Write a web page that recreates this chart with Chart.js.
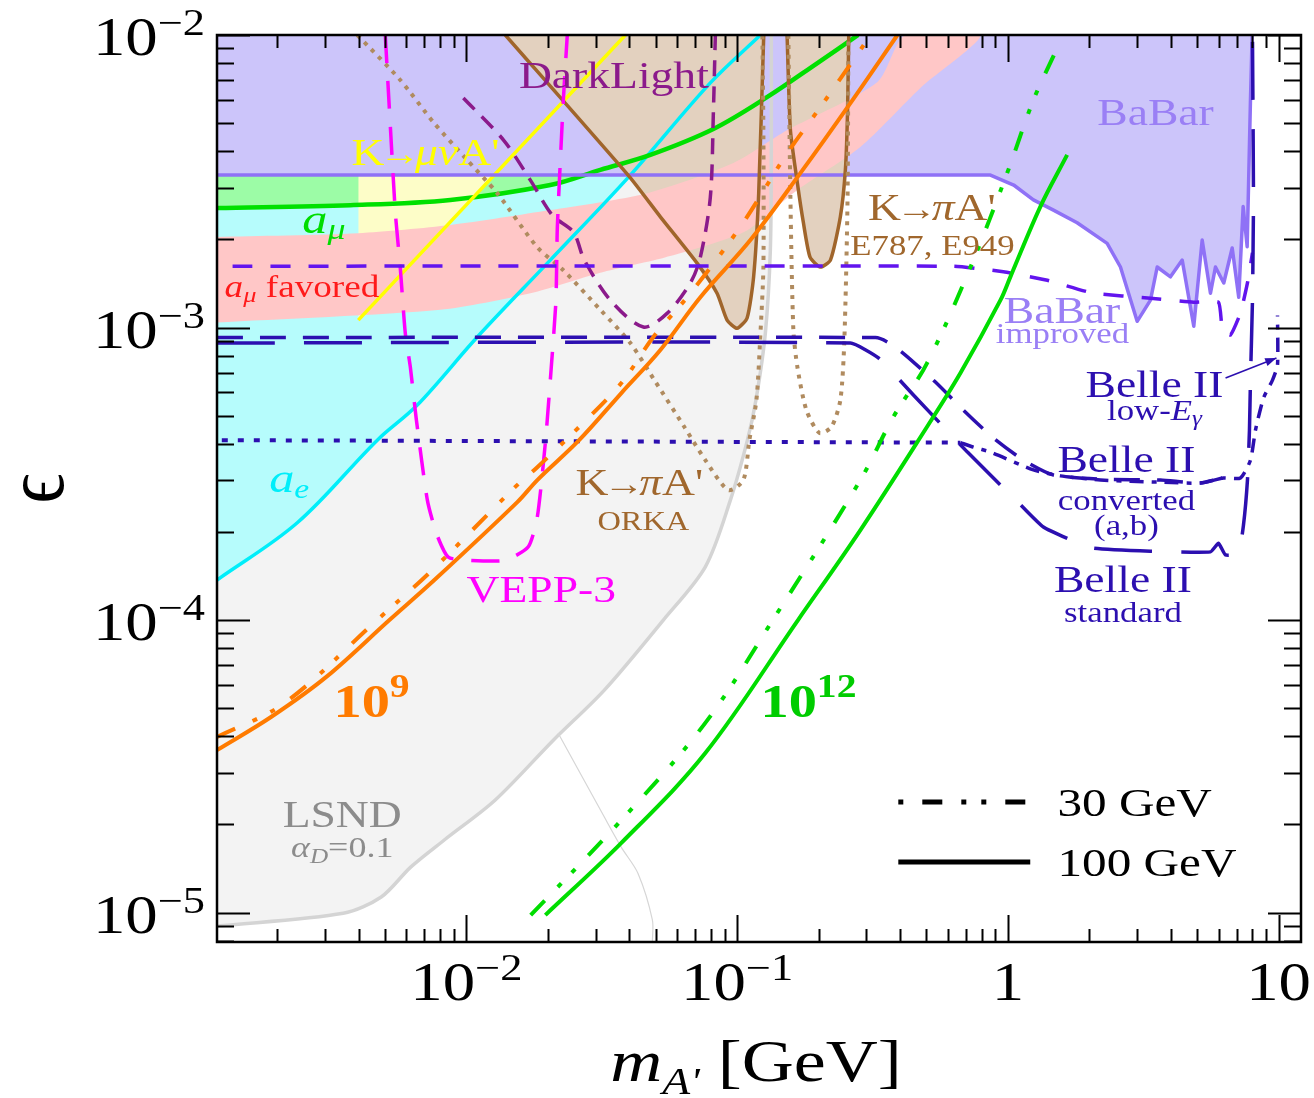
<!DOCTYPE html>
<html>
<head>
<meta charset="utf-8">
<script src="https://cdn.jsdelivr.net/npm/chart.js@4.4.1/dist/chart.umd.min.js"></script>
<style>
  html, body { margin: 0; padding: 0; background: #fff; }
  canvas { display: block; }
</style>
</head>
<body>
<canvas id="c" width="1314" height="1098"></canvas>
<script>
const SERIF = '"Liberation Serif", "Times New Roman", "DejaVu Serif", serif';
const STRETCH = 1.2;

// axes: x = m_A' in GeV, y = epsilon
const xMin = 0.0012, xMax = 12.1;
const yMin = 7.93e-6, yMax = 0.01;
const xTickValues = [0.01, 0.1, 1, 10];
const xTickLabels = [['10', '\u22122'], ['10', '\u22121'], ['1', ''], ['10', '']];
const yTickValues = [1e-2, 1e-3, 1e-4, 1e-5];
const yTickLabels = [['10', '\u22122'], ['10', '\u22123'], ['10', '\u22124'], ['10', '\u22125']];

// LSND (alpha_D = 0.1) boundary
const lsndX = [1.2e-3, 3.51e-3, 4.85e-3, 6.23e-3, 8.29e-3, 0.01276, 0.0210, 0.03234, 0.05342, 0.07635, 0.09447, 0.1092, 0.1174, 0.1272, 0.1327, 0.1338, 0.1338];
const lsndY = [8.99e-6, 9.94e-6, 1.13e-5, 1.43e-5, 1.77e-5, 2.42e-5, 3.89e-5, 5.76e-5, 1.0e-4, 1.52e-4, 2.57e-4, 4.12e-4, 5.65e-4, 9.58e-4, 1.84e-3, 4.05e-3, 0.01];
const faintX = [0.02182, 0.03234, 0.03738, 0.04307, 0.04866, 0.04866];
const faintY = [4.11e-5, 2.12e-5, 1.67e-5, 1.36e-5, 9.43e-6, 7.93e-6];

// a_e
const aeX = [1.2e-3, 2.375e-3, 4.69e-3, 6.59e-3, 0.01098, 0.02042, 0.04035, 0.07966, 0.122];
const aeY = [1.37e-4, 2.15e-4, 4.12e-4, 5.43e-4, 9.28e-4, 1.70e-3, 3.32e-3, 6.86e-3, 0.01];

// a_mu
const amuX = [1.2e-3, 3.73e-3, 8.73e-3, 0.02042, 0.03126, 0.04783, 0.08173, 0.1294, 0.198, 0.28];
const amuY = [2.56e-3, 2.62e-3, 2.73e-3, 3.07e-3, 3.46e-3, 3.89e-3, 4.77e-3, 6.14e-3, 8.02e-3, 0.01];

// K -> mu nu A'
const kmuX = [3.99e-3, 0.0387];
const kmuY = [1.06e-3, 0.01];

// BaBar
const babarX = [1.2e-3, 0.8625, 1.051, 1.243, 1.474, 1.803, 2.327, 2.606, 3.004, 3.364, 3.562, 3.987, 4.406, 4.862, 5.221, 5.603, 5.846, 6.274, 6.74, 7.126, 7.398, 7.655, 7.873, 7.988];
const babarY = [3.32e-3, 3.32e-3, 3.07e-3, 2.73e-3, 2.52e-3, 2.28e-3, 1.94e-3, 1.61e-3, 1.05e-3, 1.24e-3, 1.61e-3, 1.49e-3, 1.70e-3, 1.01e-3, 1.99e-3, 1.31e-3, 1.61e-3, 1.42e-3, 1.87e-3, 1.27e-3, 2.59e-3, 1.89e-3, 5.99e-3, 0.01];

// K -> pi A' (E787, E949), two excluded pockets
const e949aX = [0.01393, 0.0400, 0.05208, 0.07115, 0.08434, 0.09185, 0.1, 0.1089, 0.1151, 0.1202, 0.1254, 0.1256];
const e949aY = [0.01, 3.28e-3, 2.39e-3, 1.66e-3, 1.31e-3, 1.06e-3, 9.94e-4, 1.078e-3, 1.49e-3, 2.88e-3, 9.87e-3, 0.01];
const e949bX = [0.1530, 0.1574, 0.167, 0.1758, 0.186, 0.2031, 0.2212, 0.2407, 0.2512, 0.2558, 0.2585];
const e949bY = [0.01, 4.73e-3, 3.12e-3, 2.28e-3, 1.74e-3, 1.61e-3, 1.70e-3, 2.39e-3, 3.46e-3, 5.41e-3, 0.01];

// a_mu favored band (lower edge left to right, then upper edge back)
const favX = [1.2e-3, 8.02e-3, 0.01724, 0.03126, 0.05342, 0.07767, 0.1092, 0.167, 0.2854, 0.4754, 0.7922, 0.4184, 0.33, 0.1534, 0.0969, 0.04663, 0.02042, 8.73e-3, 3.99e-3, 1.2e-3];
const favY = [1.04e-3, 1.15e-3, 1.31e-3, 1.54e-3, 1.73e-3, 1.91e-3, 2.15e-3, 2.95e-3, 4.14e-3, 6.59e-3, 0.01, 0.01, 6.91e-3, 4.73e-3, 3.65e-3, 2.88e-3, 2.52e-3, 2.24e-3, 2.10e-3, 2.04e-3];

// VEPP-3
const veppX = [5.02e-3, 5.11e-3, 5.47e-3, 5.70e-3, 5.95e-3, 6.21e-3, 6.54e-3, 7.18e-3, 7.75e-3, 8.58e-3, 0.0103, 0.01393, 0.01694, 0.01829, 0.01958, 0.0206, 0.02143, 0.02169, 0.02282, 0.0236];
const veppY = [0.01, 7.42e-3, 2.46e-3, 1.61e-3, 9.58e-4, 7.34e-4, 4.83e-4, 2.57e-4, 1.98e-4, 1.64e-4, 1.60e-4, 1.60e-4, 1.78e-4, 2.25e-4, 4.03e-4, 7.33e-4, 1.24e-3, 2.21e-3, 5.99e-3, 0.01];

// DarkLight
const dlX = [9.75e-3, 0.0137, 0.01724, 0.02078, 0.02485, 0.02729, 0.03404, 0.04507, 0.05527, 0.06723, 0.07318, 0.07966, 0.08173, 0.08313];
const dlY = [6.09e-3, 4.38e-3, 3.19e-3, 2.42e-3, 2.12e-3, 1.70e-3, 1.24e-3, 1.004e-3, 1.12e-3, 1.42e-3, 1.74e-3, 2.79e-3, 5.41e-3, 0.01];

// K -> pi A' ORKA (dotted)
const orkaAX = [3.96e-3, 5.70e-3, 7.55e-3, 9.83e-3, 0.0130, 0.01829, 0.02282, 0.03126, 0.04035, 0.04949, 0.06388, 0.07635, 0.09287, 0.1055, 0.111, 0.1179, 0.122, 0.1251, 0.1251, 0.1240];
const orkaAY = [0.01, 7.02e-3, 5.04e-3, 3.83e-3, 2.88e-3, 1.88e-3, 1.57e-3, 1.15e-3, 8.85e-4, 6.61e-4, 4.57e-4, 3.52e-4, 2.78e-4, 3.01e-4, 4.12e-4, 5.65e-4, 9.58e-4, 1.61e-3, 4.62e-3, 0.01];
const orkaBX = [0.1547, 0.1574, 0.1614, 0.167, 0.1803, 0.2014, 0.2231, 0.2407, 0.249, 0.2558, 0.2577];
const orkaBY = [0.01, 2.79e-3, 9.80e-4, 7.33e-4, 5.22e-4, 4.36e-4, 4.57e-4, 5.65e-4, 9.06e-4, 2.73e-3, 0.01];

// 10^9 reach (orange): 30 GeV and 100 GeV beams
const o30X = [1.2e-3, 2.13e-3, 4.68e-3, 7.36e-3, 0.01504, 0.01829, 0.0261, 0.03738, 0.04907, 0.06723, 0.1028, 0.1534, 0.2031, 0.2689, 0.3108];
const o30Y = [3.98e-5, 5.20e-5, 1.0e-4, 1.46e-4, 2.83e-4, 3.33e-4, 4.57e-4, 6.46e-4, 9.28e-4, 1.31e-3, 2.21e-3, 3.95e-3, 5.67e-3, 8.21e-3, 0.01];
const o100X = [1.2e-3, 1.90e-3, 3.04e-3, 5.2e-3, 7.62e-3, 0.01543, 0.01829, 0.0261, 0.03738, 0.05208, 0.07318, 0.1120, 0.1713, 0.2622, 0.391];
const o100Y = [3.59e-5, 4.66e-5, 6.39e-5, 1.0e-4, 1.37e-4, 2.53e-4, 3.01e-4, 4.12e-4, 5.97e-4, 8.38e-4, 1.27e-3, 1.99e-3, 3.37e-3, 5.85e-3, 0.01];

// 10^12 reach (green)
const g30X = [0.01729, 0.03738, 0.07635, 0.1355, 0.2854, 0.3779, 0.5032, 0.7279, 0.994, 1.243, 1.521];
const g30Y = [9.80e-6, 2.07e-5, 4.45e-5, 1.0e-4, 3.01e-4, 4.95e-4, 7.56e-4, 1.61e-3, 3.37e-3, 5.99e-3, 9.01e-3];
const g100X = [0.01958, 0.03738, 0.07635, 0.1679, 0.2854, 0.5032, 0.6683, 0.9391, 1.022, 1.319, 1.656];
const g100Y = [9.80e-6, 1.73e-5, 3.51e-5, 1.0e-4, 2.03e-4, 4.58e-4, 6.99e-4, 1.24e-3, 1.49e-3, 2.59e-3, 3.89e-3];

// Belle II projections and BaBar improved
const stdX = [1.2e-3, 0.2622, 0.3327, 0.448, 0.7095, 1.142, 1.353, 1.703, 2.072, 3.364, 5.603, 5.998, 6.366, 7.108, 7.417, 7.674, 7.806, 7.873, 8.008, 8.077, 8.008];
const stdY = [8.85e-4, 8.85e-4, 7.87e-4, 5.88e-4, 3.75e-4, 2.42e-4, 2.08e-4, 1.88e-4, 1.76e-4, 1.72e-4, 1.71e-4, 1.83e-4, 1.67e-4, 1.69e-4, 2.11e-4, 3.01e-4, 4.46e-4, 6.61e-4, 1.24e-3, 2.73e-3, 0.01];
const lowX = [1.2e-3, 0.3243, 0.359, 0.4184, 0.5402, 0.6855, 0.877, 1.142, 1.474, 2.198, 3.664, 5.146, 6.205];
const lowY = [9.24e-4, 9.24e-4, 8.92e-4, 8.05e-4, 6.51e-4, 5.22e-4, 4.22e-4, 3.52e-4, 3.13e-4, 3.03e-4, 3.01e-4, 2.94e-4, 3.06e-4];
const convAX = [1.25e-3, 0.6683];
const convAY = [4.12e-4, 4.04e-4];
const convBX = [0.6683, 0.7464, 0.8625, 1.243, 1.564, 2.198, 3.664, 5.146, 6.258, 7.23, 7.873, 8.216, 8.796, 9.495, 9.908, 9.908];
const convBY = [4.04e-4, 3.90e-4, 3.75e-4, 3.26e-4, 3.11e-4, 3.01e-4, 2.96e-4, 2.94e-4, 3.06e-4, 3.06e-4, 3.52e-4, 4.46e-4, 5.74e-4, 6.61e-4, 7.44e-4, 1.10e-3];
const impX = [1.37e-3, 0.6295, 0.9632, 1.4, 2.072, 3.364, 4.85, 5.998, 6.205, 6.642, 7.23, 7.674, 8.008];
const impY = [1.62e-3, 1.62e-3, 1.55e-3, 1.45e-3, 1.31e-3, 1.26e-3, 1.22e-3, 1.22e-3, 9.80e-4, 9.43e-4, 1.12e-3, 1.42e-3, 1.80e-3];

const DASH_DOT2 = [20, 19, 5, 15, 5, 19];
const BABAR_TXT = '#9a7ff5';
const BROWN_TXT = '#a0672d';
const BELLE = '#2c0fb0';

// arrow runs are pulled in so "K→πA'" sits tight like the original
const ARROW = { t: '\u2192', s: 34, pre: -5, post: -5 };

// text placed in data coordinates
const notes = [
  { x: 3.51, y: 4.92e-3, align: 'center', color: BABAR_TXT, runs: [{ t: 'BaBar', s: 38 }] },
  { x: 0.03507, y: 6.59e-3, align: 'center', color: '#8b1a8b', runs: [{ t: 'DarkLight', s: 38 }] },
  { x: 7.06e-3, y: 3.59e-3, align: 'center', color: '#ffff00', runs: [{ t: 'K', s: 38 }, ARROW, { t: '\u03bc\u03bd', s: 38, i: 1 }, { t: "A'", s: 38 }] },
  { x: 2.48e-3, y: 2.10e-3, align: 'left', color: '#00dd00', runs: [{ t: 'a', s: 42, i: 1 }, { t: '\u03bc', s: 30, i: 1, dy: 6 }] },
  { x: 1.28e-3, y: 1.27e-3, align: 'left', color: '#ff1a1a', runs: [{ t: 'a', s: 31, i: 1 }, { t: '\u03bc', s: 22, i: 1, dy: 5 }, { t: ' favored', s: 31 }] },
  { x: 0.5243, y: 2.33e-3, align: 'center', color: BROWN_TXT, runs: [{ t: 'K', s: 38 }, ARROW, { t: '\u03c0', s: 38, i: 1 }, { t: "A'", s: 38 }] },
  { x: 0.5267, y: 1.77e-3, align: 'center', color: BROWN_TXT, runs: [{ t: 'E787, E949', s: 29 }] },
  { x: 1.585, y: 1.036e-3, align: 'center', color: BABAR_TXT, runs: [{ t: 'BaBar', s: 38 }] },
  { x: 1.591, y: 8.85e-4, align: 'center', color: BABAR_TXT, runs: [{ t: 'improved', s: 29 }] },
  { x: 3.48, y: 5.79e-4, align: 'center', color: BELLE, runs: [{ t: 'Belle II', s: 38 }] },
  { x: 3.48, y: 4.83e-4, align: 'center', color: BELLE, runs: [{ t: 'low-', s: 29 }, { t: 'E', s: 29, i: 1 }, { t: '\u03b3', s: 21, i: 1, dy: 5 }] },
  { x: 2.742, y: 3.21e-4, align: 'center', color: BELLE, runs: [{ t: 'Belle II', s: 38 }] },
  { x: 2.742, y: 2.38e-4, align: 'center', color: BELLE, runs: [{ t: 'converted', s: 29 }] },
  { x: 2.742, y: 1.95e-4, align: 'center', color: BELLE, runs: [{ t: '(a,b)', s: 29 }] },
  { x: 2.662, y: 1.246e-4, align: 'center', color: BELLE, runs: [{ t: 'Belle II', s: 38 }] },
  { x: 2.662, y: 9.84e-5, align: 'center', color: BELLE, runs: [{ t: 'standard', s: 29 }] },
  { x: 0.04355, y: 2.68e-4, align: 'center', color: BROWN_TXT, runs: [{ t: 'K', s: 38 }, ARROW, { t: '\u03c0', s: 38, i: 1 }, { t: "A'", s: 38 }] },
  { x: 0.04507, y: 2.03e-4, align: 'center', color: BROWN_TXT, runs: [{ t: 'ORKA', s: 27 }] },
  { x: 0.01892, y: 1.152e-4, align: 'center', color: '#ff00ff', runs: [{ t: 'VEPP-3', s: 38 }] },
  { x: 1.87e-3, y: 2.74e-4, align: 'left', color: '#00eefa', runs: [{ t: 'a', s: 42, i: 1 }, { t: 'e', s: 28, i: 1, dy: 6 }] },
  { x: 3.23e-3, y: 4.66e-5, align: 'left', color: '#ff7b00', runs: [{ t: '10', s: 47, b: 1 }, { t: '9', s: 33, b: 1, dy: -20 }] },
  { x: 0.122, y: 4.66e-5, align: 'left', color: '#00cc00', runs: [{ t: '10', s: 47, b: 1 }, { t: '12', s: 33, b: 1, dy: -20 }] },
  { x: 3.48e-3, y: 1.96e-5, align: 'center', color: '#8c8c8c', runs: [{ t: 'LSND', s: 38 }] },
  { x: 3.48e-3, y: 1.55e-5, align: 'center', color: '#8c8c8c', runs: [{ t: '\u03b1', s: 30, i: 1 }, { t: 'D', s: 21, i: 1, dy: 6 }, { t: '=0.1', s: 30 }] }
];

const legendItems = [
  { label: '30 GeV', dash: DASH_DOT2, offset: 59, y: 2.386e-5 },
  { label: '100 GeV', dash: [], offset: 0, y: 1.488e-5 }
];
const legendLine = [0.394, 1.21];
const legendTextX = 1.525;
const arrowFrom = { x: 6.37, y: 6.72e-4 };
const arrowTo = { x: 9.82, y: 7.87e-4 };

function pts(xs, ys) {
  return xs.map((x, i) => ({ x: x, y: ys[i] }));
}

function curve(xs, ys, color, width, dash, tension) {
  return {
    data: pts(xs, ys), showLine: true, pointRadius: 0, borderColor: color, borderWidth: width,
    borderDash: dash || [], borderCapStyle: 'butt', borderJoinStyle: 'round', fill: false,
    tension: tension || 0, clip: 0
  };
}

function area(xs, ys, color, mode, tension) {
  return {
    data: pts(xs, ys), showLine: true, pointRadius: 0, borderWidth: 0, borderColor: 'rgba(0,0,0,0)',
    backgroundColor: color, fill: mode, tension: tension || 0, clip: 0
  };
}

const datasets = [
  area(lsndX, lsndY, '#f3f3f3', 'end', 0.3),
  area(aeX, aeY, '#b6fcfc', 'end', 0.35),
  area(amuX, amuY, '#9cfca6', 'end', 0.35),
  area(kmuX, kmuY, '#fdfdc8', 'end'),
  area(babarX, babarY, '#ccc5fa', 'end'),
  area(e949aX, e949aY, '#e3d1bf', 'end', 0.2),
  area(e949bX, e949bY, '#e3d1bf', 'end', 0.2),
  Object.assign(area(favX, favY, '#ffc7c7', 'shape', 0.25), { clip: false }),
  curve(lsndX, lsndY, '#d4d4d4', 3.5, null, 0.3),
  curve(faintX, faintY, '#d6d6d6', 1.2, null, 0.3),
  curve(aeX, aeY, '#00eefa', 3.5, null, 0.35),
  curve(amuX, amuY, '#00e000', 4.5, null, 0.35),
  curve(kmuX, kmuY, '#ffff00', 3.5),
  curve(babarX, babarY, '#8f71f6', 3.5),
  curve(e949aX, e949aY, '#a0652b', 3.5, null, 0.2),
  curve(e949bX, e949bY, '#a0652b', 3.5, null, 0.2),
  curve(orkaAX, orkaAY, '#b08b5f', 4, [4, 6], 0.25),
  curve(orkaBX, orkaBY, '#b08b5f', 4, [4, 6], 0.25),
  curve(dlX, dlY, '#8b1a8b', 3.5, [16, 10], 0.3),
  curve(veppX, veppY, '#ff00ff', 3.5, [28, 18], 0.2),
  curve(impX, impY, '#6214ee', 3.5, [20, 18], 0.15),
  curve(stdX, stdY, BELLE, 3.5, [58, 29], 0.15),
  curve(lowX, lowY, BELLE, 3.5, [26, 17], 0.2),
  curve(convAX, convAY, BELLE, 4, [6, 10]),
  curve(convBX, convBY, BELLE, 3.5, [14, 8, 5, 8], 0.2),
  curve(o30X, o30Y, '#ff7b00', 4, DASH_DOT2, 0.35),
  curve(o100X, o100Y, '#ff7b00', 4, null, 0.35),
  curve(g30X, g30Y, '#00dd00', 4, DASH_DOT2, 0.35),
  curve(g100X, g100Y, '#00dd00', 4, null, 0.35)
];
// first in the list is painted first
datasets.forEach((d, i) => { d.order = datasets.length - i; });

function runFont(r) {
  return (r.i ? 'italic ' : '') + (r.b ? 'bold ' : '') + r.s + 'px ' + SERIF;
}

function drawRich(ctx, runs, x, y, align, color) {
  ctx.save();
  ctx.fillStyle = color;
  ctx.textBaseline = 'alphabetic';
  ctx.textAlign = 'left';
  let total = 0;
  const widths = runs.map(r => {
    ctx.font = runFont(r);
    const w = ctx.measureText(r.t).width * STRETCH + (r.pre || 0) + (r.post || 0);
    total += w;
    return w;
  });
  let cx = align === 'center' ? x - total / 2 : (align === 'right' ? x - total : x);
  runs.forEach((r, i) => {
    ctx.font = runFont(r);
    ctx.save();
    ctx.translate(cx + (r.pre || 0), y + (r.dy || 0));
    ctx.scale(STRETCH, 1);
    ctx.fillText(r.t, 0, 0);
    ctx.restore();
    cx += widths[i];
  });
  ctx.restore();
}

const framePlugin = {
  id: 'frame',
  afterDraw(chart) {
    const { ctx, chartArea: a } = chart;
    const sx = chart.scales.x, sy = chart.scales.y;

    // annotations
    notes.forEach(n => {
      drawRich(ctx, n.runs, sx.getPixelForValue(n.x), sy.getPixelForValue(n.y), n.align, n.color);
    });

    // arrow to the low-E_gamma curve
    const ax0 = sx.getPixelForValue(arrowFrom.x), ay0 = sy.getPixelForValue(arrowFrom.y);
    const ax1 = sx.getPixelForValue(arrowTo.x), ay1 = sy.getPixelForValue(arrowTo.y);
    const ang = Math.atan2(ay1 - ay0, ax1 - ax0);
    ctx.save();
    ctx.strokeStyle = BELLE; ctx.fillStyle = BELLE; ctx.lineWidth = 1.5;
    ctx.beginPath(); ctx.moveTo(ax0, ay0); ctx.lineTo(ax1, ay1); ctx.stroke();
    ctx.beginPath();
    ctx.moveTo(ax1, ay1);
    ctx.lineTo(ax1 - 12 * Math.cos(ang - 0.35), ay1 - 12 * Math.sin(ang - 0.35));
    ctx.lineTo(ax1 - 12 * Math.cos(ang + 0.35), ay1 - 12 * Math.sin(ang + 0.35));
    ctx.closePath(); ctx.fill();
    ctx.restore();

    // legend
    const lx0 = sx.getPixelForValue(legendLine[0]), lx1 = sx.getPixelForValue(legendLine[1]);
    const tx = sx.getPixelForValue(legendTextX);
    legendItems.forEach(item => {
      const ly = sy.getPixelForValue(item.y);
      ctx.save();
      ctx.strokeStyle = '#000'; ctx.lineWidth = 5; ctx.lineCap = 'butt';
      ctx.setLineDash(item.dash); ctx.lineDashOffset = item.offset;
      ctx.beginPath(); ctx.moveTo(lx0, ly); ctx.lineTo(lx1, ly); ctx.stroke();
      ctx.restore();
      drawRich(ctx, [{ t: item.label, s: 41 }], tx, ly + 14, 'left', '#000');
    });

    // ticks (inside the frame)
    ctx.save();
    ctx.strokeStyle = '#000'; ctx.lineWidth = 2;
    ctx.beginPath();
    for (let e = -3; e <= 1; e++) {
      for (let m = 1; m <= 9; m++) {
        const v = m * Math.pow(10, e);
        if (v < xMin || v > xMax) continue;
        const px = Math.round(sx.getPixelForValue(v)) + 0.5;
        const len = m === 1 ? 27 : 13;
        ctx.moveTo(px, a.bottom); ctx.lineTo(px, a.bottom - len);
        ctx.moveTo(px, a.top); ctx.lineTo(px, a.top + len);
      }
    }
    for (let e = -6; e <= -2; e++) {
      for (let m = 1; m <= 9; m++) {
        const v = m * Math.pow(10, e);
        if (v < yMin * 0.999 || v > yMax * 1.001) continue;
        const py = Math.round(sy.getPixelForValue(v)) + 0.5;
        const len = m === 1 ? 33 : 17;
        ctx.moveTo(a.left, py); ctx.lineTo(a.left + len, py);
        ctx.moveTo(a.right, py); ctx.lineTo(a.right - len, py);
      }
    }
    ctx.stroke();
    ctx.lineWidth = 2.5;
    ctx.strokeRect(a.left, a.top, a.right - a.left, a.bottom - a.top);
    ctx.restore();

    // tick labels
    yTickValues.forEach((v, i) => {
      const py = sy.getPixelForValue(v);
      drawRich(ctx, [{ t: yTickLabels[i][0], s: 54 }, { t: yTickLabels[i][1], s: 37, dy: -20 }], a.left - 12, py + 20, 'right', '#000');
    });
    xTickValues.forEach((v, i) => {
      const px = sx.getPixelForValue(v);
      const runs = [{ t: xTickLabels[i][0], s: 54 }];
      if (xTickLabels[i][1]) runs.push({ t: xTickLabels[i][1], s: 37, dy: -20 });
      drawRich(ctx, runs, px, a.bottom + 58, 'center', '#000');
    });

    // axis titles
    drawRich(ctx, [{ t: 'm', s: 60, i: 1 }, { t: "A'", s: 38, i: 1, dy: 13 }, { t: ' [GeV]', s: 60 }],
      (a.left + a.right) / 2 - 3, a.bottom + 139, 'center', '#000');
    ctx.save();
    ctx.translate(a.left - 176, (a.top + a.bottom) / 2);
    ctx.rotate(-Math.PI / 2);
    ctx.scale(1, 1.15);
    ctx.fillStyle = '#000';
    ctx.font = '74px ' + SERIF;
    ctx.textAlign = 'center';
    ctx.textBaseline = 'middle';
    ctx.fillText('\u03f5', 0, 0);
    ctx.restore();
  }
};

new Chart(document.getElementById('c'), {
  type: 'scatter',
  data: { datasets: datasets },
  options: {
    responsive: false,
    animation: false,
    events: [],
    layout: { padding: { left: 217, top: 35, right: 13, bottom: 156 } },
    plugins: { legend: { display: false }, tooltip: { enabled: false } },
    scales: {
      x: { type: 'logarithmic', min: xMin, max: xMax, display: false },
      y: { type: 'logarithmic', min: yMin, max: yMax, display: false }
    }
  },
  plugins: [framePlugin]
});
</script>
</body>
</html>
